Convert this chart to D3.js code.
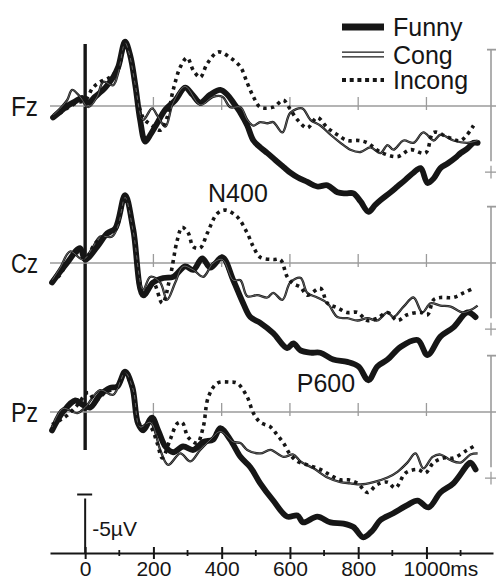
<!DOCTYPE html>
<html><head><meta charset="utf-8">
<script src="https://cdn.jsdelivr.net/npm/d3@7"></script>
<style>
body{margin:0;background:#fff}
svg{display:block}
text{font-family:"Liberation Sans",Arial,Helvetica,sans-serif;fill:#161616}
</style>
</head><body>
<svg id="c" width="496" height="581"></svg>
<script>
// ---------- data (ms, µV; negative plotted up) ----------
const channels = ["Fz", "Cz", "Pz"];
const conditions = ["Funny", "Cong", "Incong"];
const xTicks = [0, 200, 400, 600, 800, 1000];
const xMinorTicks = [100, 300, 500, 700, 900, 1100];
const calibrationUV = -5;

const fzFunny = [[-94,1.0],[-73,0.5],[-53,0],[-29,-0.4],[-9,-0.7],[9,-0.3],[29,-0.8],[59,-1.6],[82,-2.5],[97,-3.4],[117,-5.6],[132,-4.4],[147,-1.8],[161,1.2],[176,3.1],[191,2.5],[211,1.5],[235,0.3],[264,-0.5],[293,-1.6],[314,-1.0],[337,-0.3],[367,-1.0],[396,-1.4],[416,-1.0],[434,-0.3],[455,0.6],[475,1.7],[493,3.0],[513,3.6],[534,4.1],[557,4.7],[581,5.3],[601,5.8],[622,6.2],[651,6.6],[680,7.0],[710,6.9],[739,7.5],[763,7.6],[786,7.6],[807,8.3],[830,9.2],[850,8.6],[865,8.2],[895,7.5],[915,7.0],[939,6.4],[962,5.8],[983,5.4],[1003,6.7],[1021,6.3],[1041,5.4],[1062,5.0],[1085,4.5],[1100,4.1],[1120,3.7],[1138,3.2],[1150,3.2]];
const fzCong = [[-94,0.8],[-73,0.2],[-53,-0.5],[-38,-1.4],[-15,-0.8],[9,0.1],[35,-0.8],[53,-2.1],[82,-1.8],[97,-2.9],[117,-5.5],[132,-4.2],[147,-1.8],[170,1.2],[196,0.2],[211,0.8],[235,1.8],[258,-0.3],[293,-1.7],[337,-0.1],[375,-0.8],[402,-0.8],[425,0.1],[455,0.1],[475,1.2],[493,1.7],[513,1.4],[534,1.5],[551,1.4],[578,2.3],[601,0.6],[636,0.2],[660,1.2],[689,1.7],[719,2.5],[748,3.2],[777,3.8],[807,4.0],[836,3.6],[865,4.1],[886,3.4],[903,3.8],[933,3.0],[962,3.2],[991,2.3],[1021,3.0],[1041,2.5],[1079,3.0],[1120,3.2],[1150,3.0]];
const fzIncong = [[-94,1.0],[-73,0.6],[-53,0.2],[-23,-0.3],[0,-0.5],[23,-1.6],[44,-2.1],[73,-2.5],[97,-3.3],[117,-5.4],[132,-4.3],[147,-1.6],[170,1.0],[196,1.7],[220,2.1],[240,1.0],[258,-1.4],[279,-3.4],[299,-4.2],[317,-3.1],[337,-2.5],[358,-3.7],[390,-4.7],[425,-4.2],[455,-3.4],[475,-2.0],[493,-0.8],[513,0.1],[551,0.1],[581,-0.5],[601,0.3],[622,1.2],[651,1.9],[680,1.0],[710,1.9],[739,2.5],[768,3.0],[801,3.0],[827,3.2],[865,4.0],[915,4.4],[953,3.8],[997,4.1],[1021,2.3],[1062,2.7],[1100,3.0],[1138,1.7]];

const czFunny = [[-97,1.7],[-53,0],[-15,-1.3],[0,-0.3],[35,-1.4],[65,-2.6],[88,-3.0],[117,-5.9],[141,-2.9],[170,2.8],[199,1.7],[229,1.3],[258,1.2],[293,0.3],[317,0.6],[343,-0.4],[367,0.4],[402,-0.5],[434,1.5],[463,3.5],[484,4.7],[513,5.2],[551,6.1],[592,7.4],[610,7.0],[631,7.6],[660,7.8],[689,7.8],[727,8.4],[768,8.6],[801,9.0],[830,10.2],[856,9.0],[886,8.4],[924,7.3],[974,6.7],[1003,8.0],[1041,6.4],[1079,5.6],[1120,4.3],[1144,4.7]];
const czCong = [[-97,1.5],[-73,0.4],[-44,-1.0],[-6,-0.3],[21,-1.3],[44,-2.3],[79,-2.3],[97,-3.3],[117,-5.7],[141,-2.7],[170,2.3],[191,1.2],[220,1.7],[240,3.2],[264,1.7],[287,0.3],[317,0.6],[346,1.2],[375,0],[402,-0.3],[434,1.5],[455,1.5],[475,2.9],[504,2.8],[534,3.0],[551,2.6],[578,3.2],[601,1.7],[631,1.3],[651,2.6],[680,3.0],[710,3.5],[739,4.7],[768,4.8],[798,5.0],[827,4.8],[856,5.0],[886,4.3],[903,4.7],[933,3.8],[962,3.0],[988,4.3],[1012,3.5],[1041,3.7],[1071,3.8],[1106,4.3],[1129,4.1],[1150,3.7]];
const czIncong = [[-97,1.7],[-73,1.0],[-53,0],[-23,-0.9],[0,-0.4],[29,-1.7],[59,-2.4],[88,-2.9],[117,-5.7],[141,-2.7],[170,2.6],[199,1.7],[226,3.5],[249,1.2],[270,-2.0],[284,-3.1],[302,-2.6],[317,-1.4],[337,-1.3],[358,-2.6],[387,-4.3],[411,-4.6],[446,-4.0],[475,-2.6],[493,-1.4],[513,-0.5],[551,-0.3],[572,-0.3],[592,1.2],[610,1.8],[631,2.1],[651,2.8],[689,2.2],[710,3.5],[739,3.9],[768,4.3],[798,4.3],[827,5.0],[856,4.8],[886,4.3],[915,5.0],[944,4.5],[983,4.3],[1003,4.5],[1021,3.2],[1041,3.0],[1079,3.0],[1109,2.6],[1138,2.2]];

const pzFunny = [[-97,1.6],[-65,0],[-29,-1.0],[-6,-0.6],[15,-0.4],[44,-1.5],[73,-2.1],[94,-2.2],[117,-3.5],[138,-2.2],[155,1.0],[170,1.6],[196,0.5],[214,1.6],[235,3.0],[258,3.5],[287,3.0],[317,3.3],[346,2.6],[375,2.4],[396,1.4],[425,2.4],[455,3.9],[484,4.8],[513,6.2],[551,7.7],[592,9.1],[622,9.0],[639,9.6],[680,9.1],[719,9.6],[757,9.7],[786,10.0],[815,10.9],[842,10.3],[865,9.4],[903,8.8],[944,8.1],[974,7.7],[1006,8.3],[1041,7.0],[1079,6.2],[1120,4.6],[1129,4.4],[1144,5.0]];
const pzCong = [[-97,1.3],[-65,-0.3],[-23,0.1],[0,-0.4],[44,-1.9],[82,-1.5],[117,-3.4],[141,-1.9],[161,1.3],[191,0.9],[220,3.3],[243,4.6],[279,3.6],[308,4.3],[337,3.3],[367,2.4],[396,1.7],[434,2.6],[455,2.7],[475,3.3],[513,3.6],[543,3.3],[581,3.9],[610,3.7],[631,4.3],[669,4.9],[710,5.7],[748,6.1],[777,6.2],[807,6.3],[845,6.1],[886,5.7],[915,5.2],[944,4.4],[968,3.6],[991,4.9],[1018,3.9],[1041,3.7],[1071,4.2],[1100,4.4],[1129,3.7],[1150,3.6]];
const pzIncong = [[-97,1.1],[-73,0.7],[-53,0.3],[-23,-0.6],[9,-1.7],[29,-1.0],[59,-1.7],[88,-2.1],[117,-3.3],[141,-1.7],[161,1.1],[191,1.3],[211,2.7],[226,4.0],[249,2.4],[270,1.0],[284,0.9],[302,2.2],[328,2.7],[346,1.3],[361,-1.3],[387,-2.5],[425,-2.6],[446,-2.5],[475,-1.3],[493,0.1],[513,0.9],[543,1.3],[563,2.0],[581,2.7],[601,3.7],[622,4.3],[651,4.6],[689,5.0],[719,5.5],[748,5.9],[771,5.9],[798,6.2],[827,7.0],[856,6.3],[886,6.1],[909,6.6],[939,5.3],[974,5.0],[997,5.3],[1021,4.4],[1050,4.0],[1079,4.0],[1120,3.3],[1138,3.0]];

const waves = {
  Fz: {Funny: fzFunny, Cong: fzCong, Incong: fzIncong},
  Cz: {Funny: czFunny, Cong: czCong, Incong: czIncong},
  Pz: {Funny: pzFunny, Cong: pzCong, Incong: pzIncong}
};
const annotations = [
  {channel: "Cz", text: "N400", t: 360, v: -5.3},
  {channel: "Pz", text: "P600", t: 620, v: -1.7}
];

// ---------- layout ----------
const W = 496, H = 581;
const svg = d3.select("#c");
const x = d3.scaleLinear().domain([-103, 1195]).range([50, 493]);
const pxPerUV = 11.5;
const baseY = {Fz: 106, Cz: 263, Pz: 412};
const yOf = ch => d3.scaleLinear().domain([0, 1]).range([baseY[ch], baseY[ch] + pxPerUV]);
const axisY = 553;
const ink = "#161616", grey = "#9b9b9b";

const line = y => d3.line().x(d => x(d[0])).y(d => y(d[1])).curve(d3.curveCatmullRom.alpha(0.5));

// zero (stimulus onset) line
svg.append("line")
  .attr("x1", x(0)).attr("x2", x(0))
  .attr("y1", yOf("Fz")(-5.4)).attr("y2", yOf("Pz")(3.3))
  .attr("stroke", ink).attr("stroke-width", 3.4);

channels.forEach(ch => {
  const y = yOf(ch);
  const g = svg.append("g");
  // baseline
  g.append("line").attr("x1", x(-103)).attr("x2", W)
    .attr("y1", y(0)).attr("y2", y(0))
    .attr("stroke", grey).attr("stroke-width", 1.6);
  g.selectAll(".bt").data(xTicks.filter(t => t > 0)).join("line")
    .attr("x1", d => x(d)).attr("x2", d => x(d))
    .attr("y1", y(0) - 9).attr("y2", y(0) + 4)
    .attr("stroke", grey).attr("stroke-width", 1.3);
  // right-side scale bracket
  const bx = 491;
  g.append("line").attr("x1", bx).attr("x2", bx).attr("y1", y(-4.9)).attr("y2", y(4.8))
    .attr("stroke", grey).attr("stroke-width", 1.6);
  g.append("line").attr("x1", bx - 4).attr("x2", W).attr("y1", y(-4.9)).attr("y2", y(-4.9))
    .attr("stroke", grey).attr("stroke-width", 1.8);
  g.append("line").attr("x1", bx - 6).attr("x2", bx + 6).attr("y1", y(5.75)).attr("y2", y(5.75))
    .attr("stroke", grey).attr("stroke-width", 1.3);
  g.append("line").attr("x1", bx).attr("x2", bx).attr("y1", y(5.2)).attr("y2", y(6.3))
    .attr("stroke", grey).attr("stroke-width", 1.3);
  // channel label
  g.append("text").attr("x", 38).attr("y", y(0)).attr("dy", "0.36em")
    .attr("text-anchor", "end").attr("font-size", 27)
    .attr("textLength", 27).attr("lengthAdjust", "spacingAndGlyphs").text(ch);

  const L = line(y);
  // Funny: thick
  g.append("path").attr("d", L(waves[ch].Funny)).attr("fill", "none")
    .attr("stroke", ink).attr("stroke-width", 5.8).attr("stroke-linejoin", "round").attr("stroke-linecap", "round");
  // Cong: fine double line
  g.append("path").attr("d", L(waves[ch].Cong)).attr("fill", "none")
    .attr("stroke", ink).attr("stroke-width", 2.3).attr("stroke-linejoin", "round");
  g.append("path").attr("d", L(waves[ch].Cong)).attr("fill", "none")
    .attr("stroke", "#fff").attr("stroke-opacity", 0.55).attr("stroke-width", 0.6).attr("stroke-linejoin", "round");
  // Incong: dotted
  g.append("path").attr("d", L(waves[ch].Incong)).attr("fill", "none")
    .attr("stroke", ink).attr("stroke-width", 3.6).attr("stroke-dasharray", "3.4,4.2");
});

// annotations
annotations.forEach(a => {
  svg.append("text").attr("x", x(a.t)).attr("y", yOf(a.channel)(a.v))
    .attr("font-size", 25).text(a.text);
});

// legend
const leg = svg.append("g").attr("transform", "translate(342,0)");
const legY = [27, 54.5, 80];
conditions.forEach((c, i) => {
  const yy = legY[i];
  if (c === "Funny") {
    leg.append("line").attr("x1", 0).attr("x2", 42).attr("y1", yy).attr("y2", yy)
      .attr("stroke", ink).attr("stroke-width", 7);
  } else if (c === "Cong") {
    leg.append("line").attr("x1", 0).attr("x2", 42).attr("y1", yy).attr("y2", yy)
      .attr("stroke", ink).attr("stroke-width", 6.2);
    leg.append("line").attr("x1", -1).attr("x2", 43).attr("y1", yy).attr("y2", yy)
      .attr("stroke", "#fff").attr("stroke-width", 3.4);
  } else {
    leg.append("line").attr("x1", 0).attr("x2", 42).attr("y1", yy).attr("y2", yy)
      .attr("stroke", ink).attr("stroke-width", 4).attr("stroke-dasharray", "4,3.7");
  }
  leg.append("text").attr("x", 51).attr("y", yy).attr("dy", "0.36em")
    .attr("font-size", 25).text(c);
});

// bottom time axis
const axG = svg.append("g").attr("transform", `translate(0,${axisY})`);
axG.call(d3.axisBottom(x).tickValues(xTicks).tickSize(6).tickSizeOuter(0).tickPadding(2).tickFormat(d3.format("d")));
axG.select(".domain").attr("stroke", ink).attr("stroke-width", 2);
axG.selectAll(".tick line").attr("y1", -6).attr("y2", 6).attr("stroke", ink).attr("stroke-width", 2);
axG.selectAll(".tick text").attr("font-size", 21).attr("font-family", null).attr("fill", ink);
axG.selectAll(".tick text").filter(d => d === 1000).each(function() {
  const t = d3.select(this);
  const w = this.getComputedTextLength();
  t.attr("text-anchor", "start").attr("x", -w / 2).text("1000ms");
});
const minorG = svg.append("g").attr("transform", `translate(0,${axisY})`);
minorG.selectAll("line").data(xMinorTicks).join("line")
  .attr("x1", d => x(d)).attr("x2", d => x(d)).attr("y1", -3).attr("y2", 3)
  .attr("stroke", ink).attr("stroke-width", 1.8);

// calibration bar (-5 µV)
const calScale = d3.scaleLinear().domain([0, 1]).range([axisY, axisY + pxPerUV]);
svg.append("line").attr("x1", x(0)).attr("x2", x(0))
  .attr("y1", calScale(0)).attr("y2", calScale(calibrationUV) + 3)
  .attr("stroke", ink).attr("stroke-width", 2);
svg.append("line").attr("x1", x(0) - 8).attr("x2", x(0) + 7)
  .attr("y1", calScale(calibrationUV) - 1).attr("y2", calScale(calibrationUV) - 1)
  .attr("stroke", ink).attr("stroke-width", 2);
svg.append("text").attr("x", x(0) + 7).attr("y", calScale(calibrationUV) + 40)
  .attr("font-size", 21).text("-5µV");
</script>
</body></html>
